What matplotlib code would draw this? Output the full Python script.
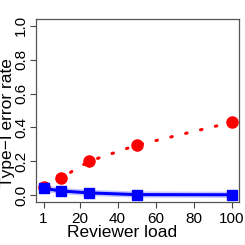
import matplotlib
matplotlib.use("Agg")
import matplotlib.pyplot as plt

load = [1, 10, 25, 50, 100]
red_vals = [0.05, 0.10, 0.20, 0.295, 0.43]
blue_vals = [0.04, 0.025, 0.013, 0.003, 0.002]
xticks = [1, 20, 40, 60, 80, 100]
yticks = [0.0, 0.2, 0.4, 0.6, 0.8, 1.0]

plt.rcParams['font.family'] = ['Liberation Sans', 'DejaVu Sans']
fig = plt.figure(figsize=(2.45, 2.45), dpi=100)
ax = fig.add_axes([0.147, 0.176, 0.829, 0.746])

ax.plot(load, red_vals, color='red', linestyle=(0, (0.5, 4.5)), lw=2.2,
        dash_capstyle='round', marker='o', markersize=8, zorder=3)
ax.plot(load, blue_vals, color='#c8c8ff', lw=4.5, solid_capstyle='butt', zorder=2)
ax.plot(load, blue_vals, color='blue', lw=2.2, marker='s', markersize=7.8, zorder=4)

ax.set_xlim(-2.96, 103.96)
ax.set_ylim(-0.04, 1.04)
ax.set_xticks(xticks)
ax.set_xticklabels([str(t) for t in xticks])
ax.set_yticks(yticks)
ax.set_yticklabels([f"{t:.1f}" for t in yticks], rotation=90, va='center')
ax.tick_params(axis='both', labelsize=11, length=4.5, width=0.8, color='#444444', pad=1.2)
ax.tick_params(axis='x', pad=2.5)
for s in ax.spines.values():
    s.set_color('#555555')
    s.set_linewidth(0.9)
ax.set_xlabel("Reviewer load", fontsize=12.5)
ax.set_ylabel("Type\u2212I error rate", fontsize=12.5)
ax.yaxis.set_label_coords(7.5 / 245, 0.5, transform=fig.transFigure)
ax.xaxis.set_label_coords(0.5, 1 - 232 / 245, transform=fig.transFigure)
ax.yaxis.label.set_va('center')
ax.xaxis.label.set_va('center')

fig.savefig("out.png", dpi=100)
